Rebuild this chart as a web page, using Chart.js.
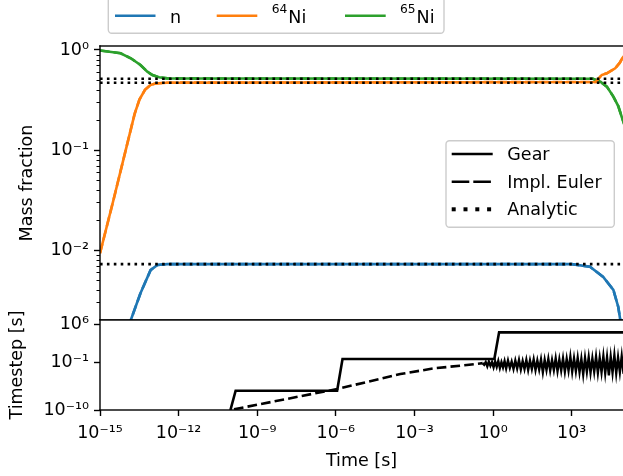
<!DOCTYPE html>
<html>
<head>
<meta charset="utf-8">
<script src="https://cdn.jsdelivr.net/npm/chart.js@4"></script>
<style>
  html, body { margin: 0; padding: 0; background: #fff; }
  #wrap { position: relative; width: 623px; height: 476px; overflow: hidden; }
  canvas { position: absolute; left: 0; }
  #top { top: 0; }
  #bottom { top: 270px; }
</style>
</head>
<body>
<div id="wrap">
  <canvas id="top" width="623" height="320"></canvas>
  <canvas id="bottom" width="623" height="206"></canvas>
</div>
<script>
// species shown in the upper panel
const speciesName = ['n', 'Ni', 'Ni'];
const speciesMass = ['', '64', '65'];
const speciesColor = ['#1f77b4', '#ff7f0e', '#2ca02c'];
const methodNames = ['Gear', 'Impl. Euler', 'Analytic'];

// mass fractions
const nTime = [1e-15, 6.7e-15, 1.5e-14, 3.5e-14, 8.5e-14, 1.55e-13, 3.7e-13, 1e3, 5e3, 1.6e4, 3.9e4, 6e4, 7.4e4, 1.1e5];
const nMass = [2e-4, 1.15e-3, 2.0e-3, 3.7e-3, 6.3e-3, 7.1e-3, 7.24e-3, 7.24e-3, 6.8e-3, 5.4e-3, 4.0e-3, 2.7e-3, 1.9e-3, 6e-4];

const ni64Time = [1e-15, 3.3e-15, 1.05e-14, 2.1e-14, 3.2e-14, 5.2e-14, 8.5e-14, 1.3e-13, 3.5e-13, 8.3e3, 1.4e4, 2.2e4, 4.6e4, 6.9e4, 8.5e4, 1.1e5];
const ni64Mass = [0.0093, 0.032, 0.11, 0.23, 0.32, 0.40, 0.447, 0.462, 0.471, 0.479, 0.562, 0.585, 0.656, 0.747, 0.826, 0.9];

const ni65Time = [1e-15, 6.1e-15, 1.5e-14, 3.5e-14, 6.4e-14, 1e-13, 1.8e-13, 3.7e-13, 6.5e3, 1.25e4, 2.2e4, 3.9e4, 6e4, 8.1e4, 1.1e5];
const ni65Mass = [0.99, 0.927, 0.826, 0.708, 0.607, 0.562, 0.533, 0.52, 0.516, 0.482, 0.43, 0.342, 0.275, 0.215, 0.17];

// analytic equilibrium values (n, 64Ni, 65Ni)
const analyticTime = [1e-15, 1.1e5];
const analyticMass = [7.24e-3, 0.471, 0.516];

// timesteps, lower panel
const gearTime = [9.5e-11, 1.5e-10, 1.12e-6, 1.8e-6, 1.12, 1.7, 1.1e5];
const gearStep = [1e-10, 4.2e-7, 4.2e-7, 0.37, 0.37, 3.8e4, 3.8e4];

const eulerTime = [1.3e-10, 1.12e-6, 2.9e-4, 5.4e-3, 0.1, 0.32, 0.4];
const eulerStep = [1.35e-10, 8.7e-7, 5.6e-4, 6.6e-3, 0.028, 0.056, 0.063];
// oscillating part after ~0.4 s, as log10 of time and log10 of step
const eulerNoiseLogTime = [-0.40, -0.34, -0.28, -0.22, -0.16, -0.10, -0.04, 0.02, 0.08, 0.14, 0.20, 0.26, 0.32, 0.38, 0.44, 0.50,
  0.57, 0.64, 0.71, 0.78, 0.85, 0.92, 0.99, 1.06, 1.13, 1.20, 1.27, 1.34, 1.41, 1.48, 1.55, 1.62, 1.69, 1.76, 1.83, 1.90, 1.97,
  2.04, 2.11, 2.18, 2.25, 2.32, 2.39, 2.46, 2.53, 2.60, 2.67, 2.74, 2.81, 2.88, 2.95, 3.02, 3.09, 3.16, 3.23, 3.30, 3.37, 3.44,
  3.51, 3.58, 3.65, 3.72, 3.79, 3.86, 3.93, 4.00, 4.07, 4.14, 4.21, 4.28, 4.35, 4.42, 4.49, 4.56, 4.63, 4.70, 4.77, 4.84, 4.91,
  4.98, 5.05];
const eulerNoiseLogStep = [-1.2, -1.5, -1.0, -1.8, -0.9, -1.7, -1.0, -2.0, -0.9, -1.9, -0.8, -2.1, -1.0, -2.0, -0.8, -2.2,
  -0.7, -2.1, -0.9, -2.3, -0.7, -2.2, -0.6, -2.4, -0.8, -2.3, -0.6, -2.5, -0.7, -2.3, -0.5, -2.5, -0.7, -2.4, -0.5, -2.9, -0.6,
  -2.5, -0.4, -2.6, -0.6, -2.5, -0.3, -2.7, -0.5, -2.6, -0.3, -2.8, -0.4, -2.6, 0.0, -2.8, -0.3, -2.7, -0.2, -2.9, -0.4, -3.3,
  -0.2, -2.8, -0.1, -3.0, -0.3, -2.8, 0.0, -3.0, -0.2, -2.9, 0.1, -3.1, -0.1, -3.5, 0.0, -3.0, 0.3, -3.1, -0.1, -2.9, 0.1,
  -3.2, 0.0];

// axis ticks
const timeTicks = [1e-15, 1e-12, 1e-9, 1e-6, 1e-3, 1e0, 1e3];
const massTicks = [1e-2, 1e-1, 1e0];
const stepTicks = [1e-10, 1e-1, 1e6];

const FONT = 'DejaVu Sans';
const FS = 17.5;
Chart.defaults.font.family = FONT;
Chart.defaults.font.size = FS;
Chart.defaults.color = '#000';

const SUP = { '-': '\u207B', '0': '\u2070', '1': '\u00B9', '2': '\u00B2', '3': '\u00B3', '4': '\u2074',
  '5': '\u2075', '6': '\u2076', '7': '\u2077', '8': '\u2078', '9': '\u2079' };
function powLabel(v) {
  const e = String(Math.round(Math.log10(v)));
  return '10' + e.split('').map(c => SUP[c]).join('');
}

function pts(xs, ys) { return xs.map((x, i) => ({ x: x, y: ys[i] })); }

const tickGrid = { drawOnChartArea: false, drawTicks: true, tickLength: 6, tickWidth: 1.4, tickColor: '#000', color: '#000' };

// keep the plot area exactly where the panel is; no room reserved for overhanging labels
function fixWidth(s) { s.width = 100; s.paddingTop = 0; s.paddingBottom = 0; }
function fixHeight(s) { s.height = 66; s.paddingLeft = 0; s.paddingRight = 0; }

function drawLabel(ctx, mass, name, x, base) {
  ctx.fillStyle = '#000';
  ctx.textBaseline = 'alphabetic';
  ctx.textAlign = 'left';
  if (mass) {
    ctx.font = (FS * 0.7) + 'px "' + FONT + '"';
    ctx.fillText(mass, x, base - 9.4);
    x += ctx.measureText(mass).width + 1;
  }
  ctx.font = FS + 'px "' + FONT + '"';
  ctx.fillText(name, x, base);
}

function legendBox(ctx, x, y, w, h) {
  ctx.beginPath();
  ctx.roundRect(x, y, w, h, 3.5);
  ctx.fillStyle = 'rgba(255,255,255,0.8)';
  ctx.fill();
  ctx.strokeStyle = '#cccccc';
  ctx.lineWidth = 1.4;
  ctx.stroke();
}

function handle(ctx, x0, x1, y, color, dash) {
  ctx.beginPath();
  ctx.setLineDash(dash);
  ctx.moveTo(x0, y);
  ctx.lineTo(x1, y);
  ctx.strokeStyle = color;
  ctx.lineWidth = 2.6;
  ctx.lineCap = 'butt';
  ctx.stroke();
  ctx.setLineDash([]);
}

function frame(ctx, a) {
  ctx.fillStyle = '#000';
  ctx.fillRect(a.left - 0.7, a.top - 0.7, a.right - a.left + 0.7, 1.4);
  ctx.fillRect(a.left - 0.7, a.bottom - 0.7, a.right - a.left + 0.7, 1.4);
  ctx.fillRect(a.left - 0.7, a.top - 0.7, 1.4, a.bottom - a.top + 1.4);
}

const topDecor = {
  id: 'topDecor',
  afterDraw(chart) {
    const { ctx, chartArea: a, scales: { y } } = chart;
    ctx.save();
    frame(ctx, a);
    // minor ticks
    ctx.strokeStyle = '#000';
    ctx.lineWidth = 1;
    for (let d = -3; d <= 0; d++) {
      for (let m = 2; m <= 9; m++) {
        const v = m * Math.pow(10, d);
        if (v < y.min || v > y.max) continue;
        const py = Math.round(y.getPixelForValue(v)) + 0.5;
        ctx.beginPath();
        ctx.moveTo(a.left - 3.5, py);
        ctx.lineTo(a.left, py);
        ctx.stroke();
      }
    }
    // species legend above the plot
    legendBox(ctx, 108.3, -3, 335.7, 36.3);
    const hx = [[115, 155.5], [216.7, 257.3], [345, 385.7]];
    const tx = [170, 271.7, 400];
    for (let i = 0; i < 3; i++) {
      handle(ctx, hx[i][0], hx[i][1], 15.7, speciesColor[i], []);
      drawLabel(ctx, speciesMass[i], speciesName[i], tx[i], 22.5);
    }
    // method legend
    legendBox(ctx, 446, 140.7, 168.3, 86.6);
    const rows = [154, 181.7, 209.3];
    handle(ctx, 451.7, 492.7, rows[0], '#000', []);
    handle(ctx, 451.7, 492.7, rows[1], '#000', [17.6, 4]);
    ctx.fillStyle = '#000';
    for (let k = 0; k < 4; k++) ctx.fillRect(451.7 + k * 11.8, rows[2] - 2, 4, 4);
    for (let i = 0; i < 3; i++) drawLabel(ctx, '', methodNames[i], 507.3, rows[i] + 6);
    ctx.restore();
  }
};

const bottomDecor = {
  id: 'bottomDecor',
  afterDraw(chart) {
    chart.ctx.save();
    frame(chart.ctx, chart.chartArea);
    chart.ctx.restore();
  }
};

const speciesTime = [nTime, ni64Time, ni65Time];
const speciesMassFrac = [nMass, ni64Mass, ni65Mass];
const massSets = [];
for (let i = 0; i < 3; i++) {
  massSets.push({
    label: speciesMass[i] + speciesName[i] + ' ' + methodNames[0],
    data: pts(speciesTime[i], speciesMassFrac[i]),
    borderColor: speciesColor[i], borderWidth: 2.6, pointRadius: 0, order: 3
  });
  massSets.push({
    label: speciesMass[i] + speciesName[i] + ' ' + methodNames[1],
    data: pts(speciesTime[i], speciesMassFrac[i]),
    borderColor: speciesColor[i], borderWidth: 2.6, borderDash: [9.6, 4.2], pointRadius: 0, order: 2
  });
  massSets.push({
    label: speciesMass[i] + speciesName[i] + ' ' + methodNames[2],
    data: pts(analyticTime, [analyticMass[i], analyticMass[i]]),
    borderColor: '#000', borderWidth: 2.6, borderDash: [2.6, 4.3], borderCapStyle: 'butt', pointRadius: 0, order: 1
  });
}

new Chart(document.getElementById('top'), {
  type: 'line',
  data: { datasets: massSets },
  options: {
    responsive: false, animation: false, devicePixelRatio: 1,
    layout: { padding: { top: 46, left: 0, right: 0, bottom: 0 } },
    plugins: { legend: { display: false }, tooltip: { enabled: false } },
    scales: {
      x: { type: 'logarithmic', min: 1e-15, max: 9.1e4, display: false },
      y: {
        type: 'logarithmic', min: 0.002, max: 1.096,
        afterBuildTicks: s => { s.ticks = massTicks.map(v => ({ value: v })); },
        afterFit: fixWidth,
        ticks: { callback: v => powLabel(v), padding: 5, font: { size: FS } },
        grid: tickGrid,
        border: { display: false },
        title: { display: true, text: 'Mass fraction', font: { size: FS }, padding: { top: 16.5, bottom: 0 } }
      }
    }
  },
  plugins: [topDecor]
});

// the smooth part is dashed; the dense oscillating tail reads as a solid band
const eulerNoise = eulerNoiseLogTime.map((e, i) => ({ x: Math.pow(10, e), y: Math.pow(10, eulerNoiseLogStep[i]) }));

new Chart(document.getElementById('bottom'), {
  type: 'line',
  data: {
    datasets: [
      { label: methodNames[0], data: pts(gearTime, gearStep), borderColor: '#000', borderWidth: 2.6, pointRadius: 0, order: 1 },
      { label: methodNames[1], data: pts(eulerTime, eulerStep), borderColor: '#000', borderWidth: 2.6, borderDash: [9.6, 4.2], pointRadius: 0, order: 2 },
      { label: methodNames[1] + ' (tail)', data: eulerNoise, borderColor: '#000', borderWidth: 2.4, pointRadius: 0, order: 2 }
    ]
  },
  options: {
    responsive: false, animation: false, devicePixelRatio: 1,
    layout: { padding: { top: 50, left: 0, right: 0, bottom: 0 } },
    plugins: { legend: { display: false }, tooltip: { enabled: false } },
    scales: {
      x: {
        type: 'logarithmic', min: 1e-15, max: 9.1e4,
        afterBuildTicks: s => { s.ticks = timeTicks.map(v => ({ value: v })); },
        afterFit: fixHeight,
        ticks: { callback: v => powLabel(v), padding: 7, maxRotation: 0, autoSkip: false, font: { size: FS } },
        grid: tickGrid,
        border: { display: false },
        title: { display: true, text: 'Time [s]', font: { size: FS }, padding: { top: 0, bottom: 4.5 } }
      },
      y: {
        type: 'logarithmic', min: 1e-10, max: 8e6,
        afterBuildTicks: s => { s.ticks = stepTicks.map(v => ({ value: v })); },
        afterFit: fixWidth,
        ticks: { callback: v => powLabel(v), padding: 5, font: { size: FS } },
        grid: tickGrid,
        border: { display: false },
        title: { display: true, text: 'Timestep [s]', font: { size: FS }, padding: { top: 6.5, bottom: 0 } }
      }
    }
  },
  plugins: [bottomDecor]
});
</script>
</body>
</html>
